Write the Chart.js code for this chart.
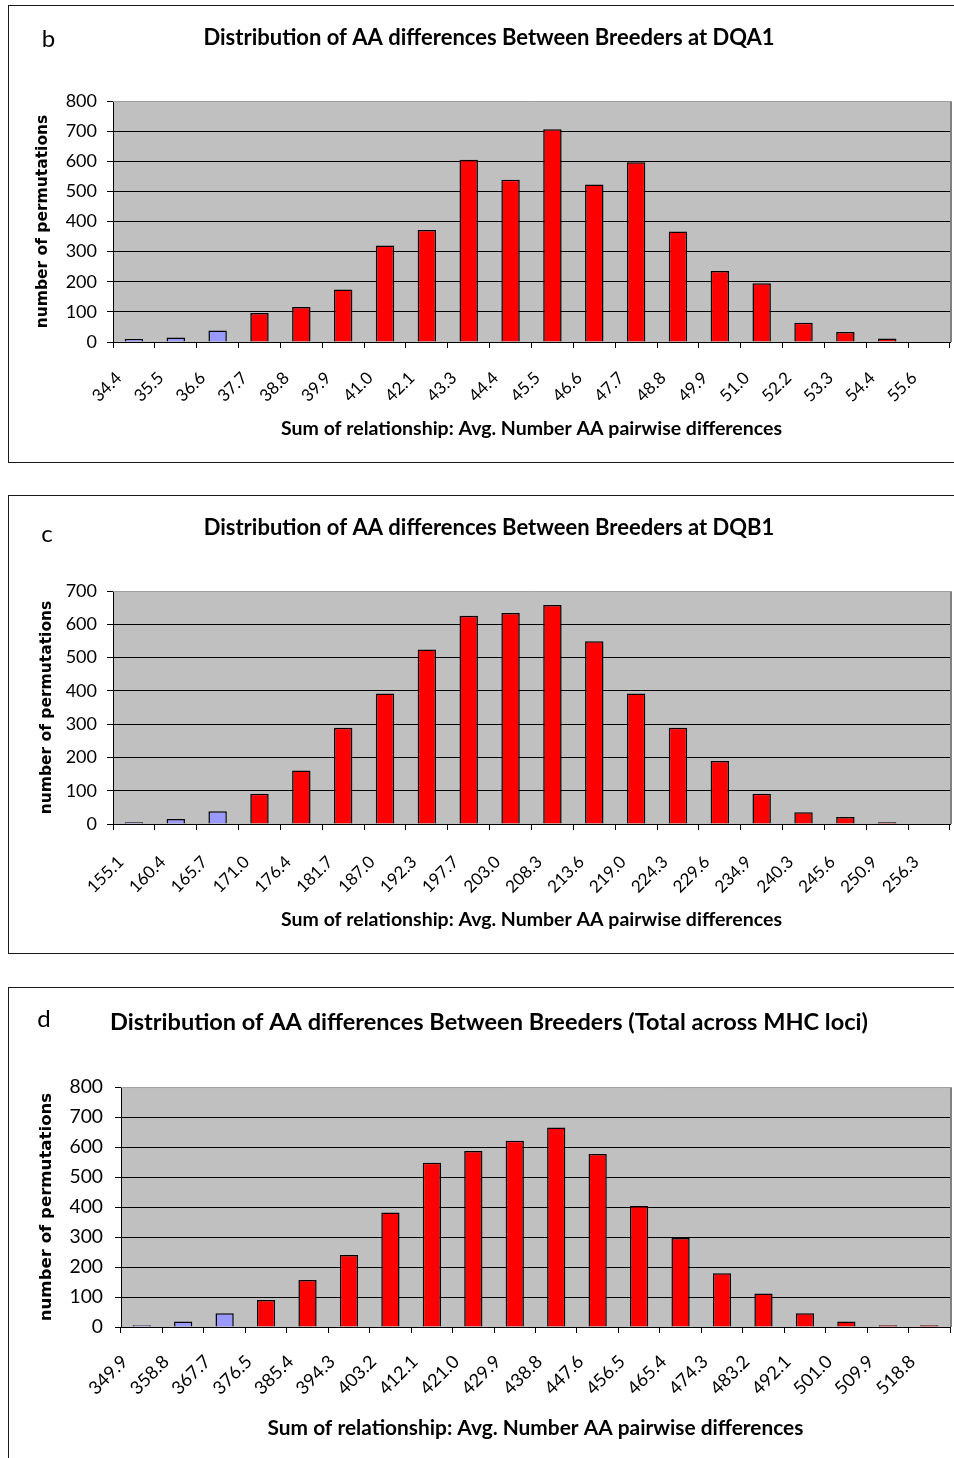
<!DOCTYPE html>
<html><head><meta charset="utf-8">
<script src="https://cdn.jsdelivr.net/npm/chart.js@4.4.1/dist/chart.umd.min.js"></script>
<style>
html,body{margin:0;padding:0;background:#fff;overflow:hidden;width:954px;height:1458px;position:relative;}
.panel{position:absolute;left:8px;border:1px solid #1a1a1a;border-right:none;width:960px;}
.panel canvas{display:block;}
</style></head><body>
<div class="panel" style="top:5px;height:456px;"><canvas id="cb" width="960" height="456"></canvas></div>
<div class="panel" style="top:495px;height:457px;"><canvas id="cc" width="960" height="457"></canvas></div>
<div class="panel" style="top:987px;height:475px;"><canvas id="cd" width="960" height="475"></canvas></div>
<script>
// ---- data ----
const dqa1Labels = ['34.4','35.5','36.6','37.7','38.8','39.9','41.0','42.1','43.3','44.4','45.5','46.6','47.7','48.8','49.9','51.0','52.2','53.3','54.4','55.6'];
const dqa1Counts = [10,15,38,96,116,174,320,372,605,539,706,523,597,367,236,195,64,33,12,0];

const dqb1Labels = ['155.1','160.4','165.7','171.0','176.4','181.7','187.0','192.3','197.7','203.0','208.3','213.6','219.0','224.3','229.6','234.9','240.3','245.6','250.9','256.3'];
const dqb1Counts = [5,15,38,91,161,289,392,524,626,634,658,549,392,289,189,91,35,21,5,0];

const totalLabels = ['349.9','358.8','367.7','376.5','385.4','394.3','403.2','412.1','421.0','429.9','438.8','447.6','456.5','465.4','474.3','483.2','492.1','501.0','509.9','518.8'];
const totalCounts = [6,18,46,90,157,240,382,548,587,621,665,577,403,297,179,112,46,18,6,6];

const lowerTailCount = 3;
const titleB = 'Distribution of AA differences Between Breeders at DQA1';
const titleC = 'Distribution of AA differences Between Breeders at DQB1';
const titleD = 'Distribution of AA differences Between Breeders (Total across MHC loci)';
const xTitle = 'Sum of relationship: Avg. Number AA pairwise differences';
const yTitle = 'number of permutations';

// ---- plugins ----
const plotFrame = {
  id: 'plotFrame',
  beforeDraw(chart) {
    const a = chart.chartArea, ctx = chart.ctx;
    ctx.save();
    ctx.fillStyle = '#C0C0C0';
    ctx.fillRect(a.left, a.top, a.right - a.left, a.bottom - a.top);
    ctx.restore();
  },
  afterDraw(chart, args, opts) {
    const a = chart.chartArea, ctx = chart.ctx;
    ctx.save();
    ctx.strokeStyle = '#808080';
    ctx.lineWidth = 2;
    ctx.beginPath();
    ctx.moveTo(a.right + 1, a.top);
    ctx.lineTo(a.right + 1, a.bottom);
    ctx.stroke();
    ctx.strokeStyle = '#A0A0A0';
    ctx.lineWidth = 1;
    ctx.beginPath();
    ctx.moveTo(a.left, a.top + 0.5);
    ctx.lineTo(a.right + 2, a.top + 0.5);
    ctx.stroke();
    if (opts && opts.tag) {
      ctx.fillStyle = '#000';
      ctx.font = '24px Lato';
      ctx.textAlign = 'center';
      ctx.textBaseline = 'alphabetic';
      ctx.fillText(opts.tag, opts.tagX, opts.tagY);
    }
    ctx.restore();
  }
};

function makeChart(id, labels, counts, title, yMax, geo) {
  const colors = counts.map((v, i) => i < lowerTailCount ? '#9999FF' : '#FF0000');
  const s = geo.fs;
  return new Chart(document.getElementById(id), {
    type: 'bar',
    data: {
      labels: labels,
      datasets: [{
        data: counts,
        backgroundColor: colors,
        borderColor: '#000000',
        borderWidth: 1.5,
        borderSkipped: 'start',
        barPercentage: 0.44,
        categoryPercentage: 1.0
      }]
    },
    options: {
      responsive: false,
      animation: false,
      devicePixelRatio: 1,
      layout: { padding: { left: 19, right: 19, top: 0, bottom: 0 } },
      plugins: {
        legend: { display: false },
        tooltip: { enabled: false },
        title: {
          display: true,
          text: title,
          color: '#000',
          font: { family: 'Lato', size: 22 * s, weight: 'bold' },
          padding: { top: geo.titleTop, bottom: geo.titleBottom }
        },
        plotFrame: { tag: geo.tag, tagX: geo.tagX, tagY: geo.tagY }
      },
      scales: {
        x: {
          offset: true,
          grid: {
            offset: true,
            drawOnChartArea: false,
            drawTicks: true,
            tickLength: 6,
            color: '#000',
            lineWidth: 1
          },
          border: { display: true, color: '#000', width: 1 },
          ticks: {
            autoSkip: false,
            maxRotation: 45,
            minRotation: 45,
            padding: geo.xPad,
            labelOffset: geo.xLabelOffset,
            color: '#000',
            font: { family: 'Lato', size: 17 * s }
          },
          title: {
            display: true,
            text: xTitle,
            color: '#000',
            font: { family: 'Lato', size: 19.5 * s, weight: 'bold' },
            padding: { top: 0, bottom: geo.xTitlePad }
          },
          afterFit(scale) { scale.height = geo.xHeight; }
        },
        y: {
          min: 0,
          max: yMax,
          ticks: {
            stepSize: 100,
            padding: geo.yPad,
            color: '#000',
            font: { family: 'Lato', size: 18 * s }
          },
          grid: {
            drawTicks: true,
            tickLength: 6,
            lineWidth: 1,
            color: (c) => (c.tick && c.tick.value === yMax) ? 'rgba(0,0,0,0)' : '#000',
            tickColor: '#000'
          },
          border: { display: true, color: '#000', width: 1 },
          title: {
            display: true,
            text: yTitle,
            color: '#000',
            font: { family: 'DejaVu Sans', size: 15.5 * s, weight: 'bold' },
            padding: { top: geo.yTitlePad, bottom: 0 }
          },
          afterFit(scale) { scale.width = geo.yWidth; }
        }
      }
    },
    plugins: [plotFrame]
  });
}

function drawAll() {
  makeChart('cb', dqa1Labels, dqa1Counts, titleB, 800, {
    fs: 1, titleTop: 18.3, titleBottom: 50.3, xHeight: 120, xTitlePad: 21.3,
    xPad: 20, xLabelOffset: -15, yPad: 10, yWidth: 85, yTitlePad: 6,
    tag: 'b', tagX: 39.5, tagY: 41
  });
  makeChart('cc', dqb1Labels, dqb1Counts, titleC, 700, {
    fs: 1, titleTop: 18.3, titleBottom: 50.3, xHeight: 129, xTitlePad: 21.3,
    xPad: 22, xLabelOffset: -13, yPad: 10, yWidth: 85, yTitlePad: 9.2,
    tag: 'c', tagX: 38, tagY: 46
  });
  makeChart('cd', totalLabels, totalCounts, titleD, 800, {
    fs: 1.07, titleTop: 20.4, titleBottom: 50.4, xHeight: 136, xTitlePad: 22,
    xPad: 18, xLabelOffset: -17, yPad: 12, yWidth: 93, yTitlePad: 9.1,
    tag: 'd', tagX: 35, tagY: 39
  });
}

const fontLoads = ['bold 22px Lato', '17px Lato', '18px Lato', 'bold 15px "DejaVu Sans"', '24px Lato'].map(f => document.fonts.load(f));
Promise.all(fontLoads).then(drawAll, drawAll);
</script>
</body></html>
